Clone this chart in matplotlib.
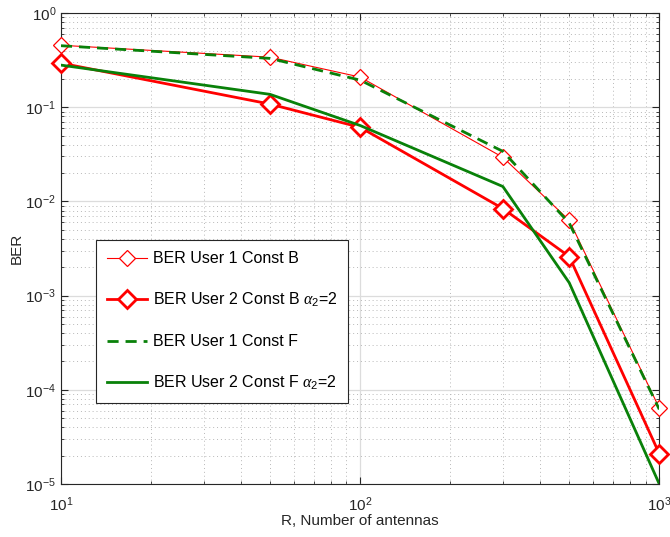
import matplotlib
matplotlib.use("Agg")
import matplotlib.pyplot as plt
from matplotlib.ticker import LogLocator, NullFormatter

plt.rcParams['font.family'] = ['Liberation Sans', 'DejaVu Sans']
plt.rcParams['mathtext.fontset'] = 'custom'
plt.rcParams['mathtext.rm'] = 'Liberation Sans'
plt.rcParams['mathtext.it'] = 'Liberation Serif:italic'
plt.rcParams['axes.unicode_minus'] = False

antennas = [10, 50, 100, 300, 500, 1000]
ber_u1_B = [0.455, 0.34, 0.209, 0.0294, 0.0063, 6.4e-5]
ber_u2_B = [0.294, 0.108, 0.0612, 0.0084, 0.0026, 2.1e-5]
ber_u1_F = [0.45, 0.33, 0.194, 0.034, 0.0059, 6.2e-5]
ber_u2_F = [0.28, 0.137, 0.064, 0.0144, 0.00137, 1.0e-5]

labels = ['BER User 1 Const B',
          r'BER User 2 Const B $\alpha_{\mathrm{2}}$=2',
          'BER User 1 Const F',
          r'BER User 2 Const F $\alpha_{\mathrm{2}}$=2']

fig = plt.figure(figsize=(6.7, 5.37), dpi=100)
ax = fig.add_axes([0.091, 0.0987, 0.893, 0.877])

ax.loglog(antennas, ber_u1_B, color='red', lw=0.8, marker='D', ms=8,
          mfc='white', mec='red', mew=0.9, label=labels[0], zorder=3, clip_on=False)
ax.loglog(antennas, ber_u2_B, color='red', lw=2.0, marker='D', ms=9,
          mfc='white', mec='red', mew=2.0, label=labels[1], zorder=3, clip_on=False)
ax.loglog(antennas, ber_u1_F, color='#098109', lw=2.0, ls=(0, (4, 2.5)),
          label=labels[2], zorder=4)
ax.loglog(antennas, ber_u2_F, color='#098109', lw=2.0, label=labels[3], zorder=4)

ax.set_xlim(10, 1000)
ax.set_ylim(1e-5, 1)
ax.yaxis.set_major_locator(LogLocator(base=10, numticks=10))
ax.yaxis.set_minor_locator(LogLocator(base=10, subs=range(2, 10), numticks=10))
ax.yaxis.set_minor_formatter(NullFormatter())
ax.xaxis.set_minor_formatter(NullFormatter())

ax.grid(True, which='major', color='#dcdcdc', lw=0.9, ls='-')
ax.grid(True, which='minor', color='#b8b8b8', lw=0.7, ls=(0, (1, 3)))
ax.set_axisbelow(True)

ax.tick_params(which='both', direction='in', top=True, right=True, colors='#262626')
ax.tick_params(which='major', length=5, labelsize=11)
ax.tick_params(which='minor', length=2.5)
ax.tick_params(axis='x', pad=8)
for s in ax.spines.values():
    s.set_color('#262626')
    s.set_linewidth(0.8)

ax.set_xlabel('R, Number of antennas', fontsize=11, color='#262626', labelpad=0)
ax.set_ylabel('BER', fontsize=11, color='#262626', labelpad=1)

leg = ax.legend(loc='upper left', bbox_to_anchor=(0.0585, 0.518), fontsize=11.5,
                frameon=True, fancybox=False, edgecolor='#262626',
                framealpha=1, labelspacing=1.55, handlelength=2.5,
                borderpad=0.7, handletextpad=0.35, borderaxespad=0)
leg.get_frame().set_linewidth(0.8)

fig.savefig('out.png', dpi=100)
